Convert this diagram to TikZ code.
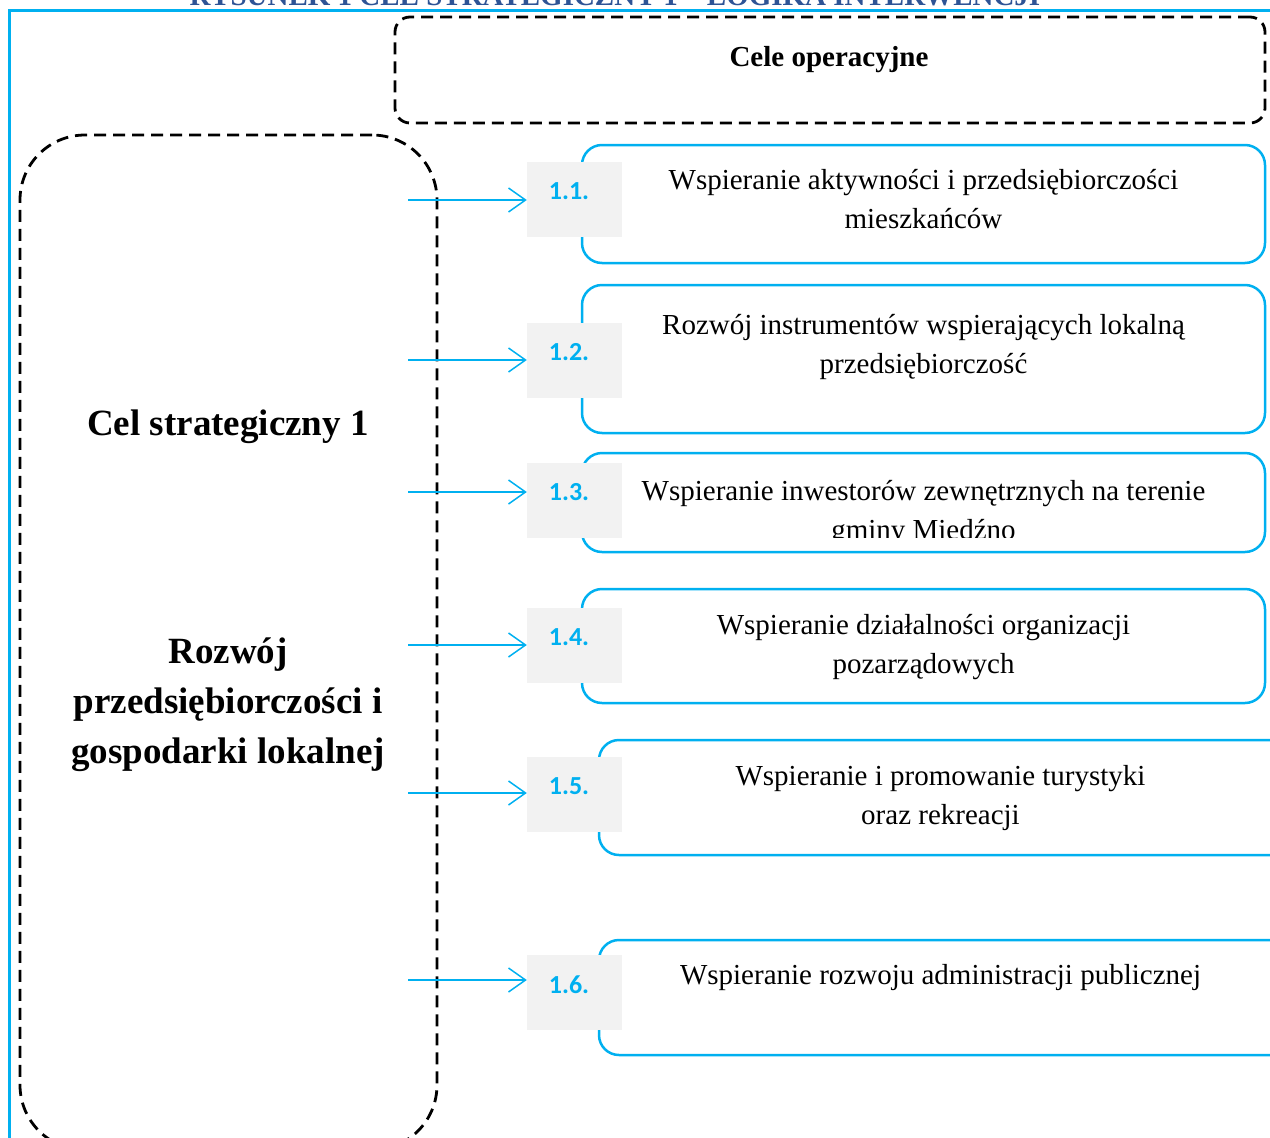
\documentclass[tikz,border=0pt]{standalone}
\usepackage{fontspec}
\setmainfont{Liberation Serif}
\newfontfamily\numfont{Carlito}
\usetikzlibrary{arrows.meta,calc}
\definecolor{celblue}{RGB}{0,176,240}
\definecolor{numgray}{RGB}{242,242,242}
\definecolor{titleblue}{RGB}{46,84,150}

\begin{document}
\begin{tikzpicture}[x=1pt,y=-1pt,>={Straight Barb[length=17pt,width=24pt]},
  cel/.style={rectangle, draw=celblue, line width=2.5pt, rounded corners=20pt, inner sep=0pt},
  num/.style={rectangle, fill=numgray, minimum width=95pt, minimum height=75pt, inner sep=0pt},
  numlbl/.style={font=\numfont\bfseries\fontsize{26}{30}\selectfont, text=celblue, xshift=-5.5pt, yshift=8pt},
  txt/.style={font=\fontsize{29}{39}\selectfont, align=center},
  bold/.style={font=\bfseries\fontsize{37}{50}\selectfont, align=center},
  dbox/.style={rectangle, draw=black, line width=2.8pt, dash pattern=on 12pt off 7pt, inner sep=0pt},
  link/.style={->, draw=celblue, line width=1.5pt}]%
\useasboundingbox (0,0) rectangle (1270,1138);
\clip (0,0) rectangle (1270,1138);
\draw[celblue, line width=3pt] (9,1145) -- (9,10) -- (1275,10);
\draw (615,5) node[anchor=base, text=titleblue, font=\bfseries\fontsize{29}{34}\selectfont] (title) {RYSUNEK 1 CEL STRATEGICZNY 1 – LOGIKA INTERWENCJI};
% naglowek
\draw (830,70) node[dbox, rounded corners=15pt, minimum width=870pt, minimum height=106pt] (ops) {};
\draw (829,60) node[font=\bfseries\fontsize{29}{34}\selectfont] (opst) {Cele operacyjne};
% cel strategiczny
\draw (228.5,642.5) node[dbox, rounded corners=65pt, minimum width=417pt, minimum height=1015pt] (cs) {};
\draw (228,427) node[bold] (cst) {Cel strategiczny 1};
\draw (228,705) node[bold] (csn) {Rozwój\\przedsiębiorczości i\\gospodarki lokalnej};
% cele operacyjne
\draw (923.5,204) node[cel, minimum width=683pt, minimum height=118pt] (b1) {};
\draw (923.5,359) node[cel, minimum width=683pt, minimum height=148pt] (b2) {};
\draw (923.5,502.5) node[cel, minimum width=683pt, minimum height=99pt] (b3) {};
\draw (923.5,646) node[cel, minimum width=683pt, minimum height=114pt] (b4) {};
\draw (944.5,797.5) node[cel, minimum width=691pt, minimum height=115pt] (b5) {};
\draw (944.5,997.5) node[cel, minimum width=691pt, minimum height=115pt] (b6) {};
\draw (923.5,199.5) node[txt] (t1) {Wspieranie aktywności i przedsiębiorczości\\mieszkańców};
\draw (923.5,347) node[txt] (t2) {Rozwój instrumentów wspierających lokalną\\przedsiębiorczość};
\begin{scope}
\clip (582,453) rectangle (1265,537);
\draw (923.5,513) node[txt] (t3) {Wspieranie inwestorów zewnętrznych na terenie\\gminy Miedźno};
\end{scope}
\draw (923.5,647.5) node[txt] (t4) {Wspieranie działalności organizacji\\pozarządowych};
\draw (940.5,798.5) node[txt] (t5) {Wspieranie i promowanie turystyki\\oraz rekreacji};
\draw (940.5,978) node[txt] (t6) {Wspieranie rozwoju administracji publicznej};
% numery
\draw (574.5,199.5) node[num, label={[numlbl]center:1.1.}] (n1) {};
\draw (574.5,360.5) node[num, label={[numlbl]center:1.2.}] (n2) {};
\draw (574.5,500.5) node[num, label={[numlbl]center:1.3.}] (n3) {};
\draw (574.5,645.5) node[num, label={[numlbl]center:1.4.}] (n4) {};
\draw (574.5,794.5) node[num, label={[numlbl]center:1.5.}] (n5) {};
\draw (574.5,992.5) node[num, label={[numlbl]center:1.6.}] (n6) {};
\coordinate (s1) at (408,200);
\coordinate (s2) at (408,360);
\coordinate (s3) at (408,492);
\coordinate (s4) at (408,645);
\coordinate (s5) at (408,793);
\coordinate (s6) at (408,980);
\draw[link] (s1) -- (s1 -| n1.west);
\draw[link] (s2) -- (s2 -| n2.west);
\draw[link] (s3) -- (s3 -| n3.west);
\draw[link] (s4) -- (s4 -| n4.west);
\draw[link] (s5) -- (s5 -| n5.west);
\draw[link] (s6) -- (s6 -| n6.west);
\end{tikzpicture}
\end{document}
